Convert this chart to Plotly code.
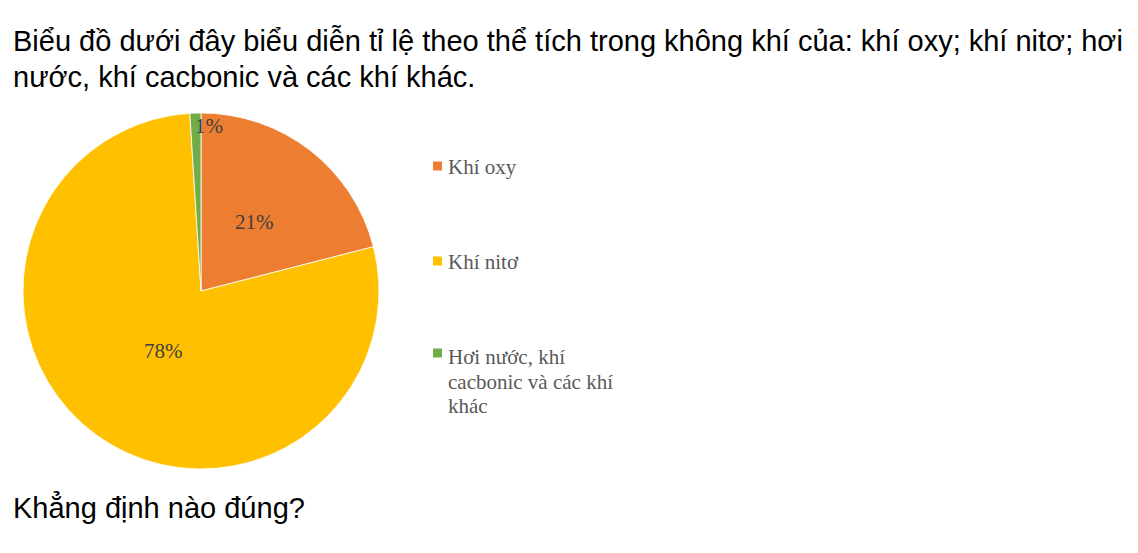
import math
import plotly.graph_objects as go

labels = ["Khí oxy", "Khí nitơ", "Hơi nước, khí cacbonic và các khí khác"]
values = [21, 78, 1]
text_labels = ["21%", "78%", "1%"]
colors = ["#ED7D31", "#FFC000", "#70AD47"]
legend_lines = [["Khí oxy"], ["Khí nitơ"], ["Hơi nước, khí", "cacbonic và các khí", "khác"]]
title_lines = [
    "Biểu đồ dưới đây biểu diễn tỉ lệ theo thể tích trong không khí của: khí oxy; khí nitơ; hơi",
    "nước, khí cacbonic và các khí khác.",
]
question = "Khẳng định nào đúng?"

OFF = 8  # page body offset
W, H = 1138 - OFF, 553 - OFF


def px(x):
    return (x - OFF) / W


def py(y):
    return 1 - (y - OFF) / H


cx, cy, R = 201, 291, 178
label_r = [0.49, 0.40, 0.93]
label_angle_shift = [0, -4, 4.7]

fig = go.Figure()
fig.add_trace(go.Pie(
    labels=labels, values=values, sort=False, direction="clockwise", rotation=0,
    marker=dict(colors=colors, line=dict(color="white", width=0.8)),
    textinfo="none", hoverinfo="label+percent", showlegend=False,
    domain=dict(x=[px(cx - R), px(cx + R)], y=[py(cy + R), py(cy - R)]),
))

annotations = []
total = sum(values)
cum = 0
for v, t, rf, sh in zip(values, text_labels, label_r, label_angle_shift):
    mid = (cum + v / 2) / total * 360 + sh
    cum += v
    th = math.radians(mid)
    lx = cx + rf * R * math.sin(th)
    ly = cy - rf * R * math.cos(th)
    annotations.append(dict(x=px(lx), y=py(ly), xref="paper", yref="paper",
                            text=t, showarrow=False, xanchor="center", yanchor="middle",
                            font=dict(family="Liberation Serif", size=21, color="#404040")))

title_font = dict(family="Liberation Sans", size=29, color="black")
for i, line in enumerate(title_lines):
    annotations.append(dict(x=px(11), y=py(41 + 36 * i), xref="paper", yref="paper",
                            text=line, showarrow=False, xanchor="left", yanchor="middle",
                            font=title_font))
annotations.append(dict(x=px(11), y=py(507), xref="paper", yref="paper",
                        text=question, showarrow=False, xanchor="left", yanchor="middle",
                        font=title_font))

# legend
square_y = [166, 261, 353]
text_y = [[167], [262], [357, 382, 406]]
shapes = []
for sy, tys, lines, col in zip(square_y, text_y, legend_lines, colors):
    shapes.append(dict(type="rect", xref="paper", yref="paper",
                       x0=px(433), x1=px(442), y0=py(sy + 4.5), y1=py(sy - 4.5),
                       fillcolor=col, line=dict(width=0)))
    for ty, txt in zip(tys, lines):
        annotations.append(dict(x=px(446), y=py(ty), xref="paper", yref="paper",
                                text=txt, showarrow=False, xanchor="left", yanchor="middle",
                                font=dict(family="Liberation Serif", size=21, color="#595959")))

fig.update_layout(width=W, height=H, margin=dict(l=0, r=0, t=0, b=0),
                  paper_bgcolor="white", plot_bgcolor="white",
                  annotations=annotations, shapes=shapes)
fig.write_html("out.html")
